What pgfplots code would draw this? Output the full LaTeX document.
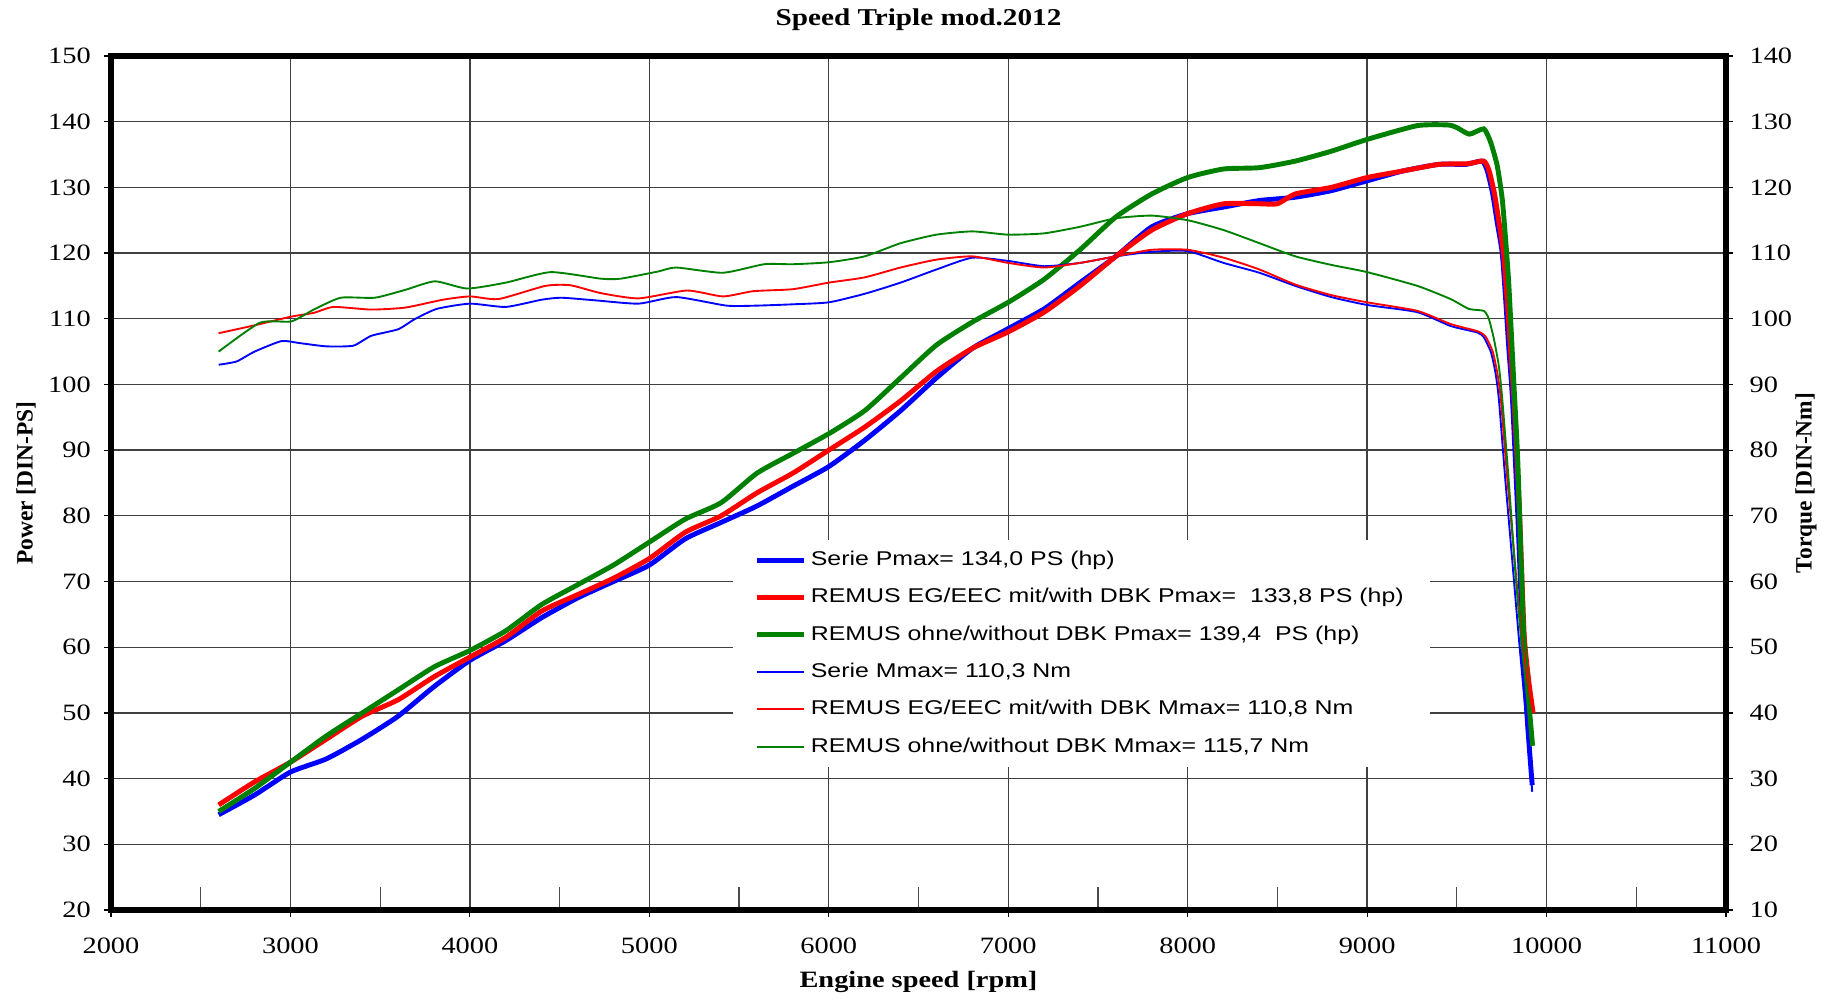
\documentclass[border=0pt]{standalone}
\usepackage{fontspec}
\setmainfont{Liberation Serif}[FakeStretch=1.21]
\newfontfamily\rotfont{Liberation Serif}
\newfontfamily\legfont{Liberation Sans}[FakeStretch=1.25]
\usepackage{pgfplots}
\pgfplotsset{compat=1.18}
\usetikzlibrary{calc}
\definecolor{pblue}{RGB}{0,0,255}
\definecolor{pred}{RGB}{255,0,0}
\definecolor{pgreen}{RGB}{0,128,0}
\begin{document}
\begin{tikzpicture}
\pgfplotsset{
  every axis/.append style={
    scale only axis, width=242.25mm, height=128.1mm,
    xmin=2000, xmax=11000,
    /pgf/number format/assume math mode=true,
    tick label style={font=\fontsize{10}{12}\selectfont},
    label style={font=\fontsize{10}{12}\selectfont\bfseries},
  },
  every axis title shift=0pt,
}
\begin{axis}[name=pw,
  ymin=20, ymax=150,
  xtick={2000,3000,...,11000}, ytick={20,30,...,150},
  scaled x ticks=false,
  minor x tick num=1,
  xticklabel style={/pgf/number format/1000 sep={}, yshift=-1.9mm},
  yticklabel style={xshift=-0.8mm},
  tick pos=left, tick align=outside,
  major tick length=1mm, minor tick length=3.5mm,
  minor x tick style={yshift=3.5mm, line width=0.5pt, black!70},
  major tick style={line width=0.5pt, black},
  grid=major, major grid style={line width=0.55pt, black!75},
  axis line style={line width=0.8mm},
  title={Speed Triple mod.2012},
  title style={at={(axis description cs:0.5,1.042)}, anchor=center, yshift=0pt, font=\fontsize{10.3}{12}\selectfont\bfseries},
  xlabel={Engine speed [rpm]},
  xlabel style={at={(axis description cs:0.5,-0.0843)}, anchor=center},
  ylabel={Power [DIN-PS]},
  ylabel style={at={(axis description cs:-0.0526,0.5)}, anchor=center, font=\rotfont\fontsize{10}{12}\selectfont\bfseries},
]
% Serie power
\addplot[pblue, line width=2.1pt, smooth, tension=0.35] coordinates {
(2600,34.5)(2800,37.5)(3000,41)(3200,43)(3400,46)(3600,49.5)(3800,54)(4000,58)(4200,61)(4400,64.5)(4600,67.5)(4800,70)(5000,72.5)(5200,76.5)(5400,79)(5600,81.5)(5800,84.5)(6000,87.5)(6200,91.5)(6400,96)(6600,101)(6800,105.5)(7000,108.5)(7200,111.5)(7400,115.5)(7600,119.5)(7800,124)(8000,126)(8200,127)(8400,128)(8600,128.5)(8800,129.5)(9000,131)(9200,132.5)(9400,133.5)(9550,133.5)(9640,134)(9670,132.5)(9700,129)(9725,124.7)(9753,120)(9772,113)(9790,105.4)(9810,97.8)(9840,80)(9869,60)(9895,48)(9920,39)};
% REMUS EG/EEC power
\addplot[pred, line width=2.1pt, smooth, tension=0.35] coordinates {
(2600,36)(2800,39.5)(3000,42.5)(3200,46)(3400,49.5)(3600,52)(3800,55.5)(4000,58.5)(4200,61.5)(4400,65.5)(4600,68)(4800,70.5)(5000,73.5)(5200,77.5)(5400,80)(5600,83.5)(5800,86.5)(6000,90)(6200,93.5)(6400,97.5)(6600,102)(6800,105.5)(7000,108)(7200,111)(7400,115)(7600,119.5)(7800,123.5)(8000,126)(8200,127.5)(8400,127.5)(8500,127.5)(8600,129)(8800,130)(9000,131.5)(9200,132.5)(9400,133.5)(9560,133.6)(9650,134)(9680,132.5)(9710,129)(9735,124.7)(9760,120)(9780,113)(9800,105)(9820,97)(9850,80)(9875,62)(9900,55)(9925,50)};
% REMUS ohne power
\addplot[pgreen, line width=2.1pt, smooth, tension=0.35] coordinates {
(2600,35)(2800,38.5)(3000,42.5)(3200,46.5)(3400,50)(3600,53.5)(3800,57)(4000,59.5)(4200,62.5)(4400,66.5)(4600,69.5)(4800,72.5)(5000,76)(5200,79.5)(5400,82)(5600,86.5)(5800,89.5)(6000,92.5)(6200,96)(6400,101)(6600,106)(6800,109.5)(7000,112.5)(7200,116)(7400,120.5)(7600,125.5)(7800,129)(8000,131.5)(8200,132.8)(8400,133)(8600,134)(8800,135.5)(9000,137.3)(9280,139.4)(9450,139.5)(9500,139.1)(9570,138.1)(9650,138.9)(9688,136.9)(9725,133.3)(9753,128.2)(9772,122)(9790,115)(9818,100)(9840,88)(9872,62)(9900,52)(9922,45)};
\end{axis}
\begin{axis}[
  ymin=10, ymax=140, ytick={10,20,...,140},
  axis x line=none, axis y line*=right,
  y axis line style={line width=0.8mm, -},
  ytick pos=right, tick align=outside, major tick length=1mm,
  major tick style={line width=0.5pt, black},
  yticklabel style={xshift=1.3mm},
  ylabel={Torque [DIN-Nm]},
  ylabel style={at={(axis description cs:1.0495,0.5)}, anchor=center, rotate=0, font=\rotfont\fontsize{10}{12}\selectfont\bfseries},
  legend style={at={(axis description cs:0.385,0.434)}, anchor=north west, draw=none, fill=white,
    font=\legfont\fontsize{8.5}{10}\selectfont, inner xsep=3.2mm, inner ysep=1.0mm,
    row sep=1.5mm, legend cell align=left},
  legend image code/.code={\draw[#1] (0mm,0mm) -- (7mm,0mm);},
]
\addlegendimage{pblue, line width=2.1pt}
\addlegendentry{Serie Pmax= 134,0 PS (hp)}
\addlegendimage{pred, line width=2.1pt}
\addlegendentry{REMUS EG/EEC mit/with DBK Pmax=\ \ 133,8 PS (hp)}
\addlegendimage{pgreen, line width=2.1pt}
\addlegendentry{REMUS ohne/without DBK Pmax= 139,4\ \ PS (hp)}
% Serie torque
\addplot[pblue, line width=0.8pt, smooth, tension=0.35] coordinates {
(2600,93)(2700,93.5)(2800,95)(2950,96.6)(3050,96.3)(3200,95.8)(3350,95.9)(3450,97.4)(3600,98.4)(3690,99.9)(3815,101.5)(4000,102.3)(4200,101.8)(4400,102.9)(4510,103.2)(4700,102.8)(4940,102.3)(5150,103.3)(5430,102)(5600,102)(5800,102.2)(6000,102.5)(6200,103.8)(6400,105.5)(6600,107.5)(6800,109.3)(7000,108.8)(7200,108)(7400,108.5)(7600,109.5)(7800,110.2)(8000,110.3)(8200,108.5)(8400,107)(8600,105)(8800,103.3)(9000,102.1)(9280,101)(9465,98.9)(9615,97.9)(9650,97.2)(9690,94.9)(9715,91.8)(9734,87.8)(9770,75.5)(9800,66)(9850,50)(9900,35)(9920,28)};
\addlegendentry{Serie Mmax= 110,3 Nm}
% REMUS EG/EEC torque
\addplot[pred, line width=0.8pt, smooth, tension=0.35] coordinates {
(2600,97.8)(2800,99)(3000,100.3)(3130,100.9)(3240,101.8)(3450,101.4)(3640,101.7)(3850,102.9)(4000,103.4)(4160,103)(4420,105)(4560,105.1)(4730,103.9)(4940,103.1)(5210,104.3)(5410,103.4)(5580,104.2)(5800,104.5)(6000,105.5)(6200,106.3)(6400,107.8)(6600,109)(6800,109.5)(7000,108.5)(7200,107.8)(7400,108.5)(7600,109.5)(7800,110.5)(8000,110.5)(8200,109.3)(8400,107.5)(8600,105.2)(8800,103.6)(9000,102.5)(9280,101.2)(9465,99.2)(9615,98.1)(9660,97.3)(9700,95)(9725,91.8)(9745,87.8)(9780,76)(9810,67)(9860,52)(9900,44)(9925,40)};
\addlegendentry{REMUS EG/EEC mit/with DBK Mmax= 110,8 Nm}
% REMUS ohne torque
\addplot[pgreen, line width=0.8pt, smooth, tension=0.35] coordinates {
(2600,95)(2830,99.4)(3005,99.6)(3130,101.4)(3280,103.2)(3470,103.2)(3640,104.4)(3805,105.7)(3985,104.6)(4200,105.5)(4450,107.1)(4730,106.1)(4840,106.1)(5050,107.2)(5150,107.8)(5410,107)(5640,108.3)(5800,108.3)(6000,108.6)(6200,109.5)(6400,111.5)(6600,112.8)(6800,113.3)(7000,112.8)(7200,113)(7400,114)(7600,115.3)(7800,115.7)(8000,115)(8200,113.5)(8400,111.5)(8600,109.5)(8800,108.2)(9000,107.1)(9280,105)(9465,103)(9567,101.5)(9650,101.2)(9678,100)(9706,97)(9734,92.8)(9753,87.8)(9790,75)(9830,60)(9870,48)(9922,35)};
\addlegendentry{REMUS ohne/without DBK Mmax= 115,7 Nm}
\end{axis}
\pgfresetboundingbox
\path[use as bounding box] ($(pw.south west)+(-16.65mm,-12.9mm)$) rectangle ($(pw.north east)+(15.45mm,8.4mm)$);
\end{tikzpicture}
\end{document}
